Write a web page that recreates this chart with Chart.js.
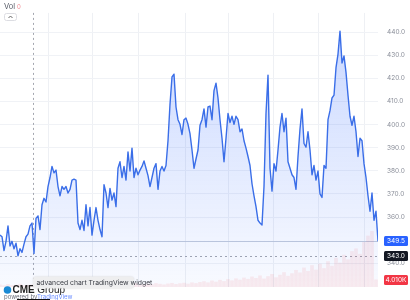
<!DOCTYPE html>
<html>
<head>
<meta charset="utf-8">
<script src="https://cdn.jsdelivr.net/npm/chart.js@4.4.1/dist/chart.umd.min.js"></script>
<style>
  html, body { margin: 0; padding: 0; background: #fff; }
  #wrap { width: 410px; height: 300px; position: relative; }
</style>
</head>
<body>
<div id="wrap"><canvas id="chart"></canvas></div>
<script>
// closing prices, one per session
const closes = [
  352.2, 351.5, 345.5, 349.5, 356.2, 347.5, 349.5, 346.3, 348.7, 343.2,
  346.3, 344.7, 348.3, 351.5, 352.6, 356.2, 357.4, 344.3, 359.4, 360.5,
  354.6, 365.3, 368.1, 366.5, 373.2, 377.1, 381.9, 379.1, 380.3, 373.2,
  369.2, 373.2, 372.0, 373.2, 370.4, 372.0, 376.0, 376.4, 376.0, 357.4,
  354.6, 358.6, 354.2, 365.3, 356.2, 364.1, 352.2, 358.6, 364.1, 358.6,
  354.6, 351.5, 374.0, 370.4, 364.1, 372.4, 367.3, 370.4, 364.5, 381.1,
  383.9, 377.1, 381.9, 376.0, 388.2, 379.9, 389.8, 377.1, 381.1, 378.3,
  380.3, 381.9, 384.3, 381.1, 377.9, 373.2, 377.1, 381.1, 383.1, 372.0,
  379.9, 381.9, 379.9, 382.3, 393.0, 408.8, 420.6, 421.8, 407.6, 402.1,
  400.1, 395.7, 402.1, 402.8, 400.1, 396.1, 389.0, 381.1, 385.1, 389.0,
  399.7, 402.1, 406.8, 398.9, 407.6, 408.0, 402.1, 414.7, 417.9, 411.5,
  402.1, 394.1, 383.9, 394.1, 404.8, 400.9, 403.6, 400.1, 403.6, 402.1,
  396.9, 398.1, 393.0, 389.8, 386.2, 382.3, 374.4, 369.2, 364.5, 358.6,
  357.4, 356.6, 373.2, 404.8, 421.4, 381.1, 371.2, 383.1, 379.9, 389.0,
  398.9, 404.8, 396.9, 402.8, 383.9, 381.1, 378.3, 377.1, 372.0, 386.2,
  398.1, 406.8, 391.8, 390.2, 396.9, 389.0, 378.3, 382.3, 376.0, 379.9,
  370.0, 368.5, 382.3, 381.1, 402.1, 406.0, 411.5, 412.7, 424.6, 430.5,
  440.4, 426.6, 429.7, 422.6, 412.7, 403.6, 399.7, 403.6, 396.9, 386.2,
  394.1, 393.0, 383.1, 377.1, 369.2, 362.5, 370.4, 358.6, 362.5, 349.5
];

// volume in thousands, every second session
const volumes = [
  1.2, 0.8, 1.5, 0.9, 1.1, 1.6, 0.7, 1.0, 1.3, 0.9,
  1.4, 1.0, 0.8, 1.2, 1.5, 1.1, 0.9, 1.3, 1.0, 1.6,
  1.2, 0.9, 1.4, 1.1, 1.7, 1.0, 1.3, 1.5, 1.2, 1.8,
  1.1, 1.4, 1.6, 1.3, 1.9, 1.2, 1.5, 1.7, 1.4, 2.0,
  1.6, 1.3, 1.8, 2.1, 1.5, 1.9, 2.2, 1.7, 2.4, 2.0,
  2.6, 3.0, 2.4, 3.4, 2.8, 3.8, 3.1, 4.2, 3.5, 4.6,
  3.9, 5.0, 4.3, 5.6, 4.8, 6.2, 4.5, 5.8, 7.0, 5.2,
  6.6, 8.0, 6.0, 7.4, 9.2, 7.8, 10.5, 8.6, 11.8, 9.4,
  12.6, 10.2, 14.0, 11.5, 15.8, 13.2, 17.5, 15.0, 19.5, 21.0,
  18.0, 24.5, 28.0, 30.5, 4.01
];

const priceTicks = [340, 360, 370, 380, 390, 400, 410, 420, 430, 440];
const timeGridAt = [24, 46, 69, 92.5, 114, 136.5, 159, 182];

const lastPrice = 349.5;
const crossPrice = 343.0;
const crossSession = 16.5;
const lastVolume = '4.010K';

const overlay = {
  id: 'overlay',
  beforeDatasetsDraw(chart) {
    const { ctx, chartArea: a, scales } = chart;
    ctx.save();
    // last price line
    const yl = Math.round(scales.y.getPixelForValue(lastPrice)) + 0.5;
    ctx.strokeStyle = 'rgba(190,198,215,0.9)';
    ctx.lineWidth = 1;
    ctx.beginPath(); ctx.moveTo(a.left, yl); ctx.lineTo(a.right, yl); ctx.stroke();
    // crosshair
    ctx.strokeStyle = '#a3a6af';
    ctx.setLineDash([2, 3]);
    const yc = Math.round(scales.y.getPixelForValue(crossPrice)) + 0.5;
    ctx.beginPath(); ctx.moveTo(a.left, yc); ctx.lineTo(a.right, yc); ctx.stroke();
    const xc = Math.round(scales.x.getPixelForValue(crossSession)) + 0.5;
    ctx.beginPath(); ctx.moveTo(xc, a.top); ctx.lineTo(xc, a.bottom); ctx.stroke();
    ctx.restore();
  },
  afterDraw(chart) {
    const { ctx, scales } = chart;
    ctx.save();
    const tag = (y, bg, text) => {
      ctx.fillStyle = bg;
      ctx.beginPath();
      ctx.roundRect(384, Math.round(y) - 5, 24, 10, 1.5);
      ctx.fill();
      ctx.fillStyle = '#fff';
      ctx.font = '6.5px Inter, sans-serif';
      ctx.textAlign = 'center';
      ctx.textBaseline = 'middle';
      ctx.fillText(text, 396, Math.round(y) + 0.5);
    };
    tag(scales.y.getPixelForValue(lastPrice), '#2962ff', lastPrice.toFixed(1));
    tag(scales.y.getPixelForValue(crossPrice), '#131722', crossPrice.toFixed(1));
    tag(scales.vol.getPixelForValue(volumes[volumes.length - 1]), '#f23645', lastVolume);

    // legend top-left
    ctx.textAlign = 'left';
    ctx.textBaseline = 'middle';
    ctx.font = '7.5px Inter, sans-serif';
    ctx.fillStyle = '#555a66';
    ctx.fillText('Vol', 4, 7);
    ctx.fillStyle = '#f08a92';
    ctx.font = '6px Inter, sans-serif';
    ctx.fillText('0', 17, 7);
    ctx.strokeStyle = '#dcdde2';
    ctx.fillStyle = '#fff';
    ctx.lineWidth = 1;
    ctx.beginPath(); ctx.roundRect(4.5, 13.5, 12, 7, 2); ctx.fill(); ctx.stroke();
    ctx.strokeStyle = '#666';
    ctx.beginPath(); ctx.moveTo(8.5, 18); ctx.lineTo(10.5, 16); ctx.lineTo(12.5, 18); ctx.stroke();

    // CME logo
    ctx.fillStyle = '#1a8ad4';
    ctx.beginPath(); ctx.arc(7.5, 290, 3.8, 0, Math.PI * 2); ctx.fill();
    ctx.fillStyle = '#1e1e1e';
    ctx.font = 'bold 10px "Liberation Sans", Arial, sans-serif';
    ctx.fillText('CME', 12.5, 290.5);
    const gx = 12.5 + ctx.measureText('CME').width + 2.5;
    ctx.font = '10px "Liberation Sans", Arial, sans-serif';
    ctx.fillText('Group', gx, 290.5);
    ctx.font = '6px Inter, sans-serif';
    ctx.fillStyle = '#6b6f7a';
    ctx.fillText('powered by', 4, 297.5);
    ctx.fillStyle = '#6a8cff';
    ctx.fillText('TradingView', 37, 297.5);
    ctx.fillStyle = '#111';
    ctx.fillRect(17, 299, 33, 1);

    // widget tooltip
    ctx.shadowColor = 'rgba(0,0,0,0.12)';
    ctx.shadowBlur = 2;
    ctx.fillStyle = 'rgba(238,238,240,0.97)';
    ctx.beginPath(); ctx.roundRect(33, 276.5, 101, 12, 3); ctx.fill();
    ctx.shadowBlur = 0;
    ctx.fillStyle = '#3a3d45';
    ctx.font = '6.8px Inter, sans-serif';
    ctx.fillText('advanced chart TradingView widget', 36.5, 283);
    ctx.restore();
  }
};

new Chart(document.getElementById('chart'), {
  data: {
    datasets: [
      {
        type: 'line',
        data: closes.map((v, i) => ({ x: i, y: v })),
        borderColor: '#3a6ee8',
        borderWidth: 1.4,
        borderJoinStyle: 'round',
        pointRadius: 0,
        tension: 0,
        fill: 'start',
        order: 0,
        backgroundColor(c) {
          const a = c.chart.chartArea;
          if (!a) return 'rgba(41,98,255,0.12)';
          const g = c.chart.ctx.createLinearGradient(0, a.top, 0, a.bottom);
          g.addColorStop(0, 'rgba(41,98,255,0.26)');
          g.addColorStop(1, 'rgba(41,98,255,0.03)');
          return g;
        }
      },
      {
        type: 'bar',
        yAxisID: 'vol',
        data: volumes.map((v, i) => ({ x: i * 2, y: v })),
        backgroundColor: 'rgba(242,54,69,0.09)',
        barThickness: 3,
        order: 1
      }
    ]
  },
  options: {
    responsive: true,
    maintainAspectRatio: false,
    animation: false,
    layout: { padding: 0 },
    plugins: { legend: { display: false }, tooltip: { enabled: false } },
    scales: {
      x: {
        type: 'linear',
        offset: false,
        min: 0,
        max: closes.length - 1,
        afterBuildTicks: s => { s.ticks = timeGridAt.map(v => ({ value: v })); },
        ticks: { display: false },
        grid: { color: '#eef0f4', drawTicks: false, offset: false },
        border: { display: false }
      },
      y: {
        position: 'right',
        min: 329.7,
        max: 448.3,
        afterBuildTicks: s => { s.ticks = priceTicks.map(v => ({ value: v })); },
        afterFit: s => { s.width = 32; },
        ticks: {
          padding: 9,
          color: '#8a8e99',
          font: { family: 'Inter', size: 6.5 },
          callback: v => v.toFixed(1)
        },
        grid: { color: '#f0f2f6', drawTicks: false },
        border: { display: false }
      },
      vol: {
        display: false,
        min: 0,
        max: 150
      }
    }
  },
  plugins: [overlay]
});
</script>
</body>
</html>
